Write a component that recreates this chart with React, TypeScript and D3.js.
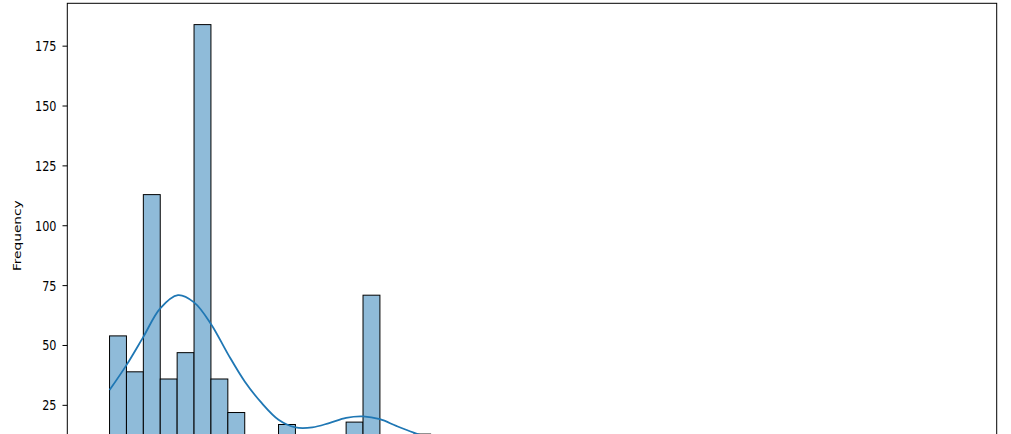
import React from "react";
import * as d3 from "d3";

// Histogram bin counts (50 equal-width bins, bin index units)
const binCounts: number[] = [
  54, 39, 113, 36, 47, 184, 36, 22, 6, 9,
  17, 4, 7, 10, 18, 71, 8, 5, 13, 3,
  2, 4, 1, 2, 0, 3, 1, 0, 2, 1,
  0, 1, 2, 0, 1, 0, 0, 1, 0, 2,
  0, 1, 0, 0, 1, 0, 0, 0, 0, 1,
];

// KDE curve (x in bin units, y in count units)
const kdeX: number[] = [0, 1, 2, 3, 4.05, 5, 6, 7, 8, 9, 10, 11, 12, 13, 14, 15, 16, 17, 18, 19, 20.5, 22, 25, 30, 35, 40, 45, 50];
const kdeY: number[] = [31.4, 41.8, 53.6, 65.5, 71, 68, 59, 46.5, 35, 26, 19, 15.8, 15.8, 17.6, 19.8, 20.4, 19.2, 16.3, 13.6, 11.3, 9, 7, 5, 3, 2.2, 1.8, 1.2, 0.6];

// visible y ticks (0 lies below the cropped picture)
const yTicks: number[] = [25, 50, 75, 100, 125, 150, 175];
const yLabel = "Frequency";

export default function App() {
  const W = 1011;
  const H = 434;
  const left = 67.3;
  const right = 996.7;
  const top = 3.3;
  const bottom = 465.2;
  const nBins = binCounts.length;

  const x = d3.scaleLinear().domain([-0.05 * nBins, nBins * 1.05]).range([left, right]);
  const yMax = d3.max(binCounts)! * 1.05 - 0.3;
  const y = d3.scaleLinear().domain([0, yMax]).range([bottom, top]);

  const line = d3
    .line<number>()
    .x((_, i) => x(kdeX[i]))
    .y((d) => y(d))
    .curve(d3.curveCatmullRom.alpha(0.5));

  const fontFamily = "'DejaVu Sans', sans-serif";
  const fs = 13.7;
  const sx = 0.82;

  return (
    <svg
      width={W}
      height={H}
      style={{ position: "absolute", left: 0, top: 0, display: "block", background: "#fff" }}
    >
      <rect x={0} y={0} width={W} height={H} fill="#fff" />
      {binCounts.map((c, i) => (
        <rect
          key={i}
          x={x(i)}
          y={y(c)}
          width={x(i + 1) - x(i)}
          height={y(0) - y(c)}
          fill="#8fbbd9"
          stroke="#000"
          strokeWidth={1}
        />
      ))}
      <path d={line(kdeY) || ""} fill="none" stroke="#1f77b4" strokeWidth={1.8} />
      {/* axes frame */}
      <rect x={left} y={top} width={right - left} height={bottom - top} fill="none" stroke="#000" strokeWidth={1} />
      {yTicks.map((t) => (
        <g key={t}>
          <line x1={left - 4.8} x2={left} y1={y(t)} y2={y(t)} stroke="#000" strokeWidth={1} />
          <text
            transform={`translate(56.5,${y(t)}) scale(${sx},1)`}
            textAnchor="end"
            dy="0.36em"
            fontFamily={fontFamily}
            fontSize={fs}
            fill="#000"
          >
            {t}
          </text>
        </g>
      ))}
      <text
        transform={`translate(20.5,${(top + bottom) / 2 + 1.5}) scale(${sx},1) rotate(-90)`}
        textAnchor="middle"
        fontFamily={fontFamily}
        fontSize={fs}
        fill="#000"
      >
        {yLabel}
      </text>
    </svg>
  );
}
